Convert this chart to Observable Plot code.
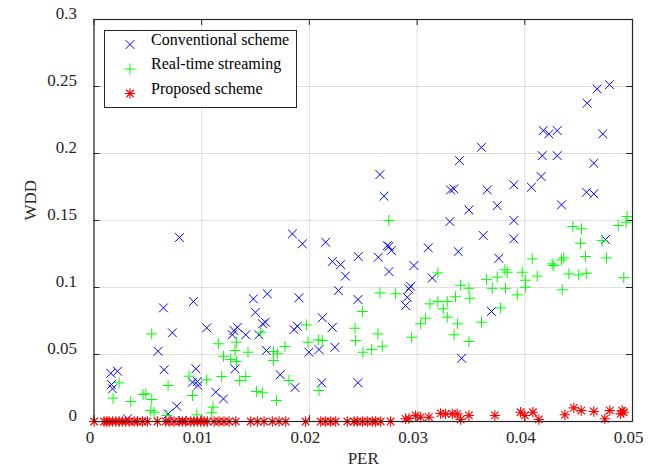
<!DOCTYPE html>
<html><head><meta charset="utf-8">
<script src="https://cdn.jsdelivr.net/npm/d3@7"></script>
<script src="https://cdn.jsdelivr.net/npm/@observablehq/plot@0.6"></script>
<style>body{margin:0;background:#fff;}</style>
</head><body><div id="chart"></div>
<script>
// ---- data ----
const xTicks = [0, 0.01, 0.02, 0.03, 0.04, 0.05];
const yTicks = [0, 0.05, 0.1, 0.15, 0.2, 0.25, 0.3];
const seriesNames = ["Conventional scheme", "Real-time streaming", "Proposed scheme"];

const convX = [0.00793,0.01610,0.01480,0.00645,0.00923,0.01499,0.01591,0.01566,0.01047,0.00728,0.01332,0.01300,0.01285,0.01409,0.01532,0.00595,0.01601,0.01309,0.00156,0.00218,0.00651,0.00945,0.00162,0.00172,0.00914,0.00960,0.00966,0.01130,0.01202,0.00768,0.00688,0.00311,0.00821,0.02334,0.02940,0.02924,0.02909,0.02893,0.01903,0.02269,0.02451,0.02120,0.02213,0.01857,0.01888,0.01996,0.02089,0.02237,0.01729,0.01866,0.02114,0.02451,0.02655,0.02692,0.03304,0.01842,0.01935,0.02151,0.02213,0.02290,0.02454,0.02640,0.02723,0.02739,0.02761,0.02739,0.02970,0.03104,0.03141,0.04786,0.04672,0.04579,0.04171,0.04223,0.04301,0.04724,0.03598,0.03394,0.04162,0.04301,0.04641,0.04152,0.04062,0.03898,0.03651,0.03311,0.03341,0.04573,0.04641,0.03744,0.03481,0.04341,0.03898,0.03614,0.03898,0.03382,0.03759,0.04749,0.03691,0.03413];
const convY = [0.1373,0.0953,0.0915,0.0848,0.0895,0.0815,0.0741,0.0729,0.0699,0.0662,0.0703,0.0679,0.0647,0.0647,0.0647,0.0524,0.0530,0.0393,0.0360,0.0375,0.0386,0.0393,0.0276,0.0244,0.0293,0.0298,0.0269,0.0219,0.0169,0.0114,0.0057,0.0020,0.0007,0.1085,0.1009,0.0990,0.0927,0.0865,0.0923,0.0977,0.0910,0.0774,0.0703,0.0686,0.0711,0.0517,0.0537,0.0554,0.0349,0.0254,0.0289,0.0289,0.1843,0.1681,0.1492,0.1400,0.1326,0.1338,0.1194,0.1171,0.1231,0.1226,0.1313,0.1306,0.1276,0.1119,0.1164,0.1296,0.1071,0.2514,0.2482,0.2375,0.2171,0.2146,0.2171,0.2146,0.2046,0.1947,0.1984,0.1984,0.1927,0.1828,0.1748,0.1766,0.1728,0.1728,0.1736,0.1711,0.1699,0.1611,0.1579,0.1617,0.1500,0.1388,0.1363,0.1268,0.1218,0.1358,0.0821,0.0472];

const rtX = [0.00536,0.01155,0.01322,0.01202,0.01309,0.01430,0.01269,0.01322,0.01548,0.01666,0.01703,0.01666,0.00233,0.00177,0.00341,0.00456,0.00481,0.00536,0.00527,0.00558,0.00688,0.00882,0.00914,0.01047,0.01186,0.01353,0.01409,0.01508,0.01564,0.01694,0.01105,0.01093,0.00954,0.00676,0.02655,0.02801,0.02492,0.01972,0.02423,0.02636,0.02429,0.02083,0.02120,0.01987,0.01773,0.02677,0.02497,0.02578,0.02949,0.03033,0.03079,0.03119,0.03193,0.03280,0.03243,0.03280,0.01810,0.02089,0.02738,0.03193,0.04950,0.04941,0.04867,0.04446,0.04526,0.04718,0.04517,0.04563,0.04758,0.04069,0.04362,0.04341,0.04254,0.04269,0.03815,0.03837,0.03976,0.03744,0.04115,0.04004,0.04409,0.04501,0.04570,0.04919,0.03645,0.03698,0.03404,0.03481,0.03357,0.03490,0.03821,0.04007,0.03930,0.03775,0.04347,0.03598,0.03376,0.03481,0.03343];
const rtY = [0.0654,0.0580,0.0592,0.0487,0.0530,0.0517,0.0463,0.0448,0.0666,0.0522,0.0505,0.0455,0.0289,0.0174,0.0149,0.0201,0.0207,0.0164,0.0082,0.0069,0.0269,0.0338,0.0194,0.0311,0.0336,0.0306,0.0336,0.0224,0.0214,0.0157,0.0107,0.0065,0.0050,0.0045,0.0960,0.0953,0.0821,0.0721,0.0696,0.0654,0.0604,0.0609,0.0604,0.0592,0.0560,0.0562,0.0517,0.0537,0.0629,0.0729,0.0771,0.0878,0.0895,0.0895,0.0841,0.0778,0.0306,0.0231,0.1500,0.1109,0.1529,0.1487,0.1462,0.1455,0.1438,0.1350,0.1330,0.1231,0.1221,0.1214,0.1221,0.1206,0.1176,0.1164,0.1132,0.1114,0.1114,0.1078,0.1085,0.1054,0.1102,0.1094,0.1106,0.1074,0.1059,0.0994,0.1017,0.0994,0.0931,0.0920,0.0994,0.1002,0.0945,0.0848,0.0983,0.0741,0.0729,0.0597,0.0647];

const propX = [0.00001,0.00094,0.00119,0.00140,0.00172,0.00202,0.00233,0.00264,0.00295,0.00326,0.00372,0.00404,0.00450,0.00496,0.00589,0.00666,0.00697,0.00743,0.00790,0.00821,0.00852,0.00898,0.00929,0.00960,0.00991,0.01022,0.01053,0.01115,0.01161,0.01207,0.01254,0.01316,0.01455,0.01517,0.01579,0.01656,0.01718,0.01780,0.01965,0.02105,0.02151,0.02197,0.02244,0.02352,0.02414,0.02445,0.02492,0.02538,0.02584,0.02615,0.02662,0.02754,0.02893,0.02924,0.02986,0.03033,0.03110,0.03218,0.03265,0.03327,0.03373,0.03404,0.03481,0.03722,0.03961,0.04000,0.04075,0.04130,0.04372,0.04455,0.04524,0.04641,0.04743,0.04789,0.04889,0.04904,0.04919];
const propY = [0,0,0,0,0,0,0,0,0,0,0,0,0,0,0,0,0,0,0,0,0,0,0,0,0,0,0,0,0,0,0,0,0,0,0,0,0,0,0,0,0,0,0,0,0,0,0,0,0,0,0,0,0.0020,0.0022,0.0045,0.0032,0.0032,0.0060,0.0057,0.0057,0.0057,0.0015,0.0045,0.0045,0.0069,0.0045,0.0069,0.0015,0.0050,0.0102,0.0082,0.0075,0.0020,0.0082,0.0057,0.0082,0.0069];

// ---- symbols (MATLAB-like x, +, *) ----
const timesSym = {draw(c, s) { const r = Math.sqrt(s / Math.PI); c.moveTo(-r, -r); c.lineTo(r, r); c.moveTo(-r, r); c.lineTo(r, -r); }};
const plusSym = {draw(c, s) { const r = Math.sqrt(s / Math.PI); c.moveTo(-r, 0); c.lineTo(r, 0); c.moveTo(0, -r); c.lineTo(0, r); }};
const starSym = {draw(c, s) { const r = Math.sqrt(s / Math.PI), d = r * 0.72;
  c.moveTo(-r, 0); c.lineTo(r, 0); c.moveTo(0, -r); c.lineTo(0, r);
  c.moveTo(-d, -d); c.lineTo(d, d); c.moveTo(-d, d); c.lineTo(d, -d); }};

const series = [
  {name: seriesNames[0], xs: convX, ys: convY, color: "#0000ff", symbol: timesSym, r: 4.4, sw: 1},
  {name: seriesNames[1], xs: rtX, ys: rtY, color: "#00ff00", symbol: plusSym, r: 5.5, sw: 1},
  {name: seriesNames[2], xs: propX, ys: propY, color: "#ff0000", symbol: starSym, r: 5.2, sw: 1.1}
];
series.forEach(s => s.data = s.xs.map((x, i) => ({x, y: s.ys[i]})));

const W = 657, H = 476, mL = 93.5, mR = 25, mT = 19, mB = 55;
const innerW = W - mL - mR, innerH = H - mT - mB;
const axisColor = "#262626";
const tl = 6;

const chart = Plot.plot({
  width: W, height: H,
  marginLeft: mL, marginRight: mR, marginTop: mT, marginBottom: mB,
  style: {fontFamily: "'Liberation Serif', 'Times New Roman', serif", fontSize: "17px", color: axisColor, background: "white"},
  x: {domain: [0, 0.05]},
  y: {domain: [0, 0.3]},
  marks: [
    Plot.gridX(xTicks, {stroke: axisColor, strokeOpacity: 0.15, strokeWidth: 1}),
    Plot.gridY(yTicks, {stroke: axisColor, strokeOpacity: 0.15, strokeWidth: 1}),
    Plot.axisX(xTicks, {tickSize: 0, tickPadding: 9, dx: -4, tickFormat: d => String(d), label: null, fill: axisColor}),
    Plot.axisY(yTicks, {tickSize: 0, tickPadding: 17, dy: -5.5, tickFormat: d => String(d), label: null, fill: axisColor}),
    Plot.tickX(xTicks, {x: d => d, insetTop: innerH - tl, stroke: axisColor}),
    Plot.tickX(xTicks, {x: d => d, insetBottom: innerH - tl, stroke: axisColor}),
    Plot.tickY(yTicks, {y: d => d, insetRight: innerW - tl, stroke: axisColor}),
    Plot.tickY(yTicks, {y: d => d, insetLeft: innerW - tl, stroke: axisColor}),
    ...series.map(s => Plot.dot(s.data, {x: "x", y: "y", symbol: s.symbol, r: s.r, stroke: s.color, fill: "none", strokeWidth: s.sw})),
    Plot.frame({stroke: axisColor, strokeWidth: 1.2}),
    Plot.text(["PER"], {text: d => d, frameAnchor: "bottom", dy: 42, fontSize: 17, fill: axisColor}),
    Plot.text(["WDD"], {text: d => d, frameAnchor: "left", dx: -63, rotate: -90, fontSize: 17, fill: axisColor})
  ]
});
document.getElementById("chart").appendChild(chart);

// ---- legend ----
const svg = d3.select(chart);
const lg = svg.append("g").attr("text-anchor", "start");
lg.append("rect").attr("x", 104.5).attr("y", 30.5).attr("width", 192).attr("height", 77)
  .attr("fill", "white").attr("stroke", axisColor).attr("stroke-width", 1);
series.forEach((s, i) => {
  const y = 44.5 + i * 24.5;
  lg.append("path").attr("transform", `translate(130,${y})`)
    .attr("d", d3.symbol(s.symbol, s.r * s.r * Math.PI)())
    .attr("fill", "none").attr("stroke", s.color).attr("stroke-width", s.sw);
  lg.append("text").attr("x", 151).attr("y", y).attr("font-size", 16).attr("fill", "#000")
    .attr("text-anchor", "start")
    .text(s.name);
});
</script>
</body></html>
